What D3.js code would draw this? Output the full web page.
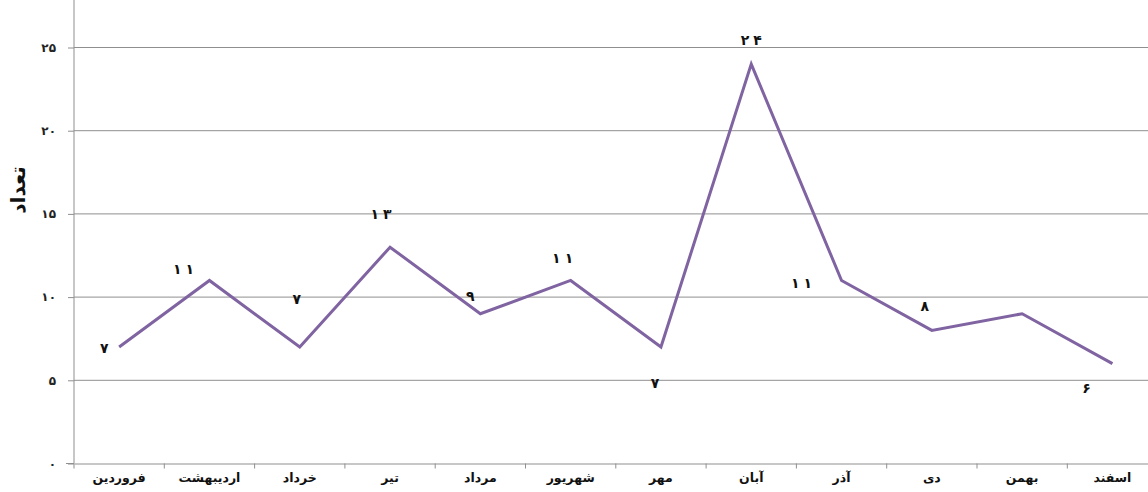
<!DOCTYPE html>
<html><head><meta charset="utf-8">
<script src="https://cdn.jsdelivr.net/npm/d3@7"></script>
<style>body{margin:0;background:#fff;}svg{display:block;}</style>
</head><body>
<svg id="c" width="1148" height="492"></svg>
<script>
const months = ["فروردین","اردیبهشت","خرداد","تیر","مرداد","شهریور","مهر","آبان","آذر","دی","بهمن","اسفند"];
const counts = [7, 11, 7, 13, 9, 11, 7, 24, 11, 8, 9, 6];
const showLabel = [true,true,true,true,true,true,true,true,true,true,false,true];
const yTicks = [0, 5, 10, 15, 20, 25];
const yTitle = "تعداد";
// label placement (layout only)
const labelDx = [-15, -26, -3, -9, -10, -8, -6, 0, -40, -7, 0, -26];
const labelDy = [2, -10, -47, -32, -17, -21, 37, -23, 4, -23, 0, 25];

const fa = n => String(n).replace(/\d/g, d => "۰۱۲۳۴۵۶۷۸۹"[d]);
const svg = d3.select("#c");
const left = 74, bandW = 90.3, bottom = 463.5;
const x = d3.scaleBand().domain(months).range([left, left + bandW*12]).padding(0);
const y = d3.scaleLinear().domain([0, 25]).range([bottom, 47.5]);
const font = "'DejaVu Sans', sans-serif";

// gridlines
svg.append("g").selectAll("line").data(yTicks.filter(t=>t>0)).join("line")
  .attr("x1", left).attr("x2", 1148).attr("y1", d=>y(d)).attr("y2", d=>y(d))
  .attr("stroke", "#8f8f8f").attr("stroke-width", 1);

// y axis
const ya = svg.append("g").attr("transform", `translate(${left},0)`)
  .call(d3.axisLeft(y).tickValues(yTicks).tickSize(6).tickPadding(12).tickFormat(fa));
ya.select(".domain").remove();
ya.selectAll(".tick line").attr("stroke", "#8f8f8f");
ya.selectAll(".tick text").attr("font-family", font).attr("font-size", 12).attr("font-weight", "bold").attr("fill", "#222");
svg.append("line").attr("x1", left).attr("x2", left).attr("y1", 0).attr("y2", bottom)
  .attr("stroke", "#8f8f8f").attr("stroke-width", 1);

// x axis
const xa = svg.append("g").attr("transform", `translate(0,${bottom})`)
  .call(d3.axisBottom(x).tickSize(0).tickPadding(10));
xa.select(".domain").attr("stroke", "#8f8f8f");
xa.selectAll(".tick text").attr("font-family", font).attr("font-size", 12.5).attr("font-weight", "bold").attr("fill", "#111");
svg.append("g").selectAll("line").data(d3.range(13)).join("line")
  .attr("x1", i => left + i*bandW).attr("x2", i => left + i*bandW)
  .attr("y1", bottom).attr("y2", bottom + 5).attr("stroke", "#8f8f8f");
svg.append("line").attr("x1", 66).attr("x2", left).attr("y1", bottom).attr("y2", bottom).attr("stroke", "#8f8f8f");

// y title
svg.append("text").attr("transform", "translate(25,190) rotate(-90)")
  .attr("text-anchor", "middle").attr("font-family", font).attr("font-size", 20).attr("font-weight", "bold")
  .attr("fill", "#111").text(yTitle);

// line
const cx = m => x(m) + x.bandwidth()/2;
svg.append("path").datum(counts)
  .attr("fill", "none").attr("stroke", "#8064a2").attr("stroke-width", 3).attr("stroke-linejoin", "miter")
  .attr("d", d3.line().x((d,i) => cx(months[i])).y(d => y(d)));

// labels
const lab = counts.map((v,i) => ({v, i})).filter(d => showLabel[d.i]);
const t = svg.append("g").selectAll("text").data(lab).join("text")
  .attr("x", d => cx(months[d.i]) + labelDx[d.i])
  .attr("y", d => y(d.v) + labelDy[d.i])
  .attr("text-anchor", "middle").attr("dominant-baseline", "middle")
  .attr("font-family", font).attr("font-size", 14).attr("font-weight", "bold").attr("fill", "#111");
t.selectAll("tspan").data(d => fa(d.v).split("")).join("tspan")
  .attr("dx", (c,j) => j > 0 ? 4 : 0).text(c => c);
</script>
</body></html>
